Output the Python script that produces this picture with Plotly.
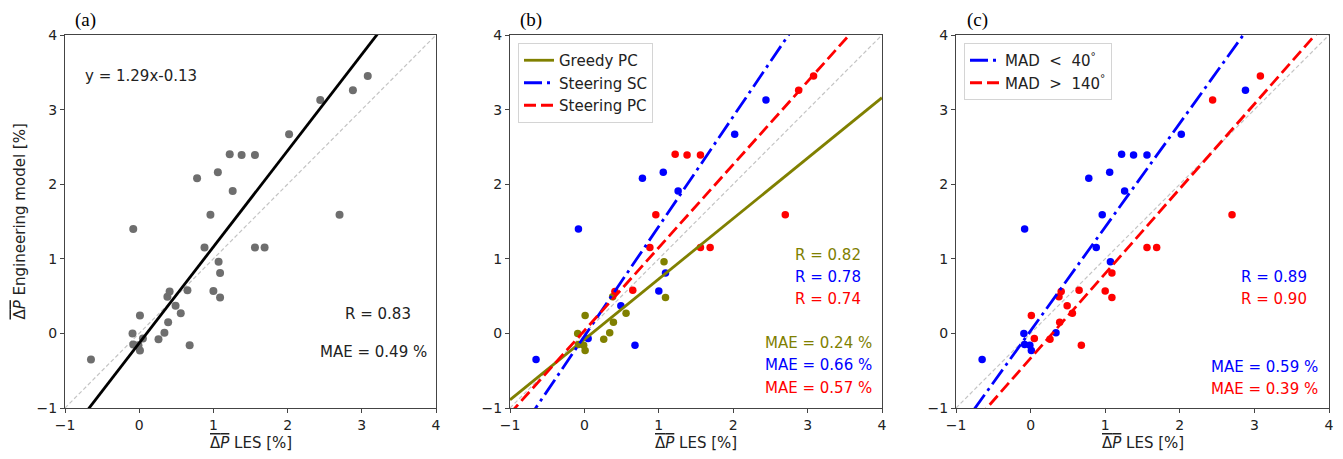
import plotly.graph_objects as go

# LES vs engineering model pressure drop [%], one entry per case
les = [-0.65, -0.08, -0.09, 0.01, -0.08, -0.01, 0.01, 0.05, 0.26, 0.34, 0.39, 0.38,
       0.41, 0.49, 0.56, 0.65, 0.68, 0.88, 0.96, 1.00, 1.07, 1.09, 1.09, 0.78,
       1.06, 1.26, 1.22, 1.38, 1.56, 1.56, 1.69, 2.02, 2.44, 2.70, 2.88, 3.08]
model = [-0.35, 1.40, 0.00, 0.24, -0.15, -0.16, -0.23, -0.07, -0.08, 0.01, 0.15, 0.49,
         0.56, 0.37, 0.27, 0.58, -0.16, 1.15, 1.59, 0.57, 0.96, 0.81, 0.48, 2.08,
         2.16, 1.91, 2.40, 2.39, 2.39, 1.15, 1.15, 2.67, 3.13, 1.59, 3.26, 3.45]

# controller group per case (panel b) and misalignment group (panel c)
controller = ["SSC", "SSC", "GPC", "GPC", "GPC", "GPC", "GPC", "SSC", "GPC", "GPC", "GPC", "GPC",
              "SPC", "SSC", "GPC", "SPC", "SSC", "SPC", "SPC", "SSC", "GPC", "SSC", "GPC", "SSC",
              "SSC", "SSC", "SPC", "SPC", "SPC", "SPC", "SPC", "SSC", "SSC", "SPC", "SPC", "SPC"]
mad = ["lo", "lo", "lo", "hi", "lo", "lo", "lo", "hi", "hi", "lo", "hi", "hi",
       "hi", "hi", "hi", "hi", "hi", "lo", "lo", "hi", "lo", "hi", "hi", "lo",
       "lo", "lo", "lo", "lo", "lo", "hi", "hi", "lo", "hi", "hi", "lo", "hi"]

# linear fits (slope, intercept)
fit_all = (1.29, -0.13)
ctrl_keys = ["GPC", "SSC", "SPC"]
ctrl_names = ["Greedy PC", "Steering SC", "Steering PC"]
ctrl_fits = [(0.81, -0.08), (1.472, -0.037), (1.113, 0.038)]
ctrl_r = ["R = 0.82", "R = 0.78", "R = 0.74"]
ctrl_mae = ["MAE = 0.24 %", "MAE = 0.66 %", "MAE = 0.57 %"]

mad_keys = ["lo", "hi"]
mad_names = ["MAD  <  40<sup>°</sup>", "MAD  >  140<sup>°</sup>"]
mad_fits = [(1.391, 0.035), (1.136, -0.333)]
mad_r = ["R = 0.89", "R = 0.90"]
mad_mae = ["MAE = 0.59 %", "MAE = 0.39 %"]

ctrl_colors = ["#808000", "#0000ff", "#ff0000"]
DASHDOT = "18px,5px,3px,5px"
DASHED = "12px,5px"
ctrl_dash = ["solid", DASHDOT, DASHED]
mad_colors = ["#0000ff", "#ff0000"]
mad_dash = [DASHDOT, DASHED]

FONT = "DejaVu Sans"
# the page body adds an 8px margin around the figure
OFF = 8
W, H = 1343 - 2 * OFF, 459 - 2 * OFF
line_x = [-1, 4]


def px(x):
    return (x - OFF) / W


def py(y):
    return 1 - (y - OFF) / H


fig = go.Figure()


def add_diag(ax):
    fig.add_trace(go.Scatter(x=line_x, y=line_x, mode="lines", xaxis="x" + ax, yaxis="y" + ax,
                             line=dict(color="#c4c4c4", width=1.2, dash="4px,2.5px"),
                             showlegend=False, hoverinfo="skip"))


def add_fit(ax, fit, color, dash, name=None, legend=None):
    k, b = fit
    fig.add_trace(go.Scatter(x=line_x, y=[k * v + b for v in line_x], mode="lines",
                             xaxis="x" + ax, yaxis="y" + ax, name=name,
                             line=dict(color=color, width=2.8, dash=dash),
                             showlegend=name is not None, legend=legend))


# (a) all cases
add_diag("")
fig.add_trace(go.Scatter(x=les, y=model, mode="markers", showlegend=False,
                         marker=dict(color="#6e6e6e", size=8)))
add_fit("", fit_all, "black", "solid")

# (b) by controller
add_diag("2")
for key, color in zip(ctrl_keys, ctrl_colors):
    xs = [x for x, g in zip(les, controller) if g == key]
    ys = [y for y, g in zip(model, controller) if g == key]
    fig.add_trace(go.Scatter(x=xs, y=ys, mode="markers", xaxis="x2", yaxis="y2",
                             marker=dict(color=color, size=7.5), showlegend=False))
for fit, color, dash, name in zip(ctrl_fits, ctrl_colors, ctrl_dash, ctrl_names):
    add_fit("2", fit, color, dash, name, "legend")

# (c) by misalignment
add_diag("3")
for key, color in zip(mad_keys, mad_colors):
    xs = [x for x, g in zip(les, mad) if g == key]
    ys = [y for y, g in zip(model, mad) if g == key]
    fig.add_trace(go.Scatter(x=xs, y=ys, mode="markers", xaxis="x3", yaxis="y3",
                             marker=dict(color=color, size=7.5), showlegend=False))
for fit, color, dash, name in zip(mad_fits, mad_colors, mad_dash, mad_names):
    add_fit("3", fit, color, dash, name, "legend2")

axis_style = dict(range=[-1, 4], tickvals=[-1, 0, 1, 2, 3, 4], showgrid=False, zeroline=False,
                  showline=True, linecolor="#444", linewidth=1, mirror=True,
                  ticks="outside", ticklen=4, tickcolor="#444", automargin=False,
                  tickfont=dict(family=FONT, size=14, color="#222"))

domains = [[px(65), px(436)], [px(510), px(882)], [px(956), px(1329)]]
ydom = [py(408), py(35)]
layout = dict(width=W, height=H, autosize=False, plot_bgcolor="white", paper_bgcolor="white",
              margin=dict(l=0, r=0, t=0, b=0, pad=0, autoexpand=False),
              font=dict(family=FONT, size=15, color="#222"))
for i, dom in enumerate(domains):
    s = "" if i == 0 else str(i + 1)
    layout["xaxis" + s] = dict(axis_style, domain=dom, anchor="y" + s)
    layout["yaxis" + s] = dict(axis_style, domain=ydom, anchor="x" + s)

legend_style = dict(bgcolor="white", bordercolor="#d4d4d4", borderwidth=1,
                    font=dict(family=FONT, size=15, color="#222"),
                    xanchor="left", yanchor="top", yref="paper", itemwidth=30,
                    tracegroupgap=0)
layout["legend"] = dict(legend_style, x=px(518), y=py(43))
layout["legend2"] = dict(legend_style, x=px(964), y=py(43))
fig.update_layout(**layout)

xlabel = '<span style="text-decoration:overline">Δ<i>P</i></span> LES [%]'
ylabel = '<span style="text-decoration:overline">Δ<i>P</i></span> Engineering model [%]'

notes = []
for x0, tag in zip([85, 531, 977], ["(a)", "(b)", "(c)"]):
    notes.append(dict(x=px(x0), y=py(20), xref="paper", yref="paper", text=tag,
                      xanchor="center", yanchor="middle", showarrow=False,
                      font=dict(family="Liberation Serif", size=19, color="black")))
for dom in domains:
    notes.append(dict(x=(dom[0] + dom[1]) / 2, y=py(443), xref="paper", yref="paper",
                      text=xlabel, xanchor="center", yanchor="middle", showarrow=False))
notes.append(dict(x=px(19), y=(ydom[0] + ydom[1]) / 2, xref="paper", yref="paper",
                  text=ylabel, textangle=-90, xanchor="center", yanchor="middle",
                  showarrow=False))

# panel (a) texts
notes.append(dict(x=-0.76, y=3.45, xref="x", yref="y", text="y = 1.29x-0.13",
                  xanchor="left", yanchor="middle", showarrow=False))
notes.append(dict(x=2.75, y=0.26, xref="x", yref="y", text="R = 0.83",
                  xanchor="left", yanchor="middle", showarrow=False))
notes.append(dict(x=2.41, y=-0.25, xref="x", yref="y", text="MAE = 0.49 %",
                  xanchor="left", yanchor="middle", showarrow=False))

# panel (b) texts
for j, (r, m, c) in enumerate(zip(ctrl_r, ctrl_mae, ctrl_colors)):
    notes.append(dict(x=2.80, y=1.05 - 0.295 * j, xref="x2", yref="y2", text=r,
                      xanchor="left", yanchor="middle", showarrow=False, font=dict(color=c)))
    notes.append(dict(x=2.40, y=-0.13 - 0.30 * j, xref="x2", yref="y2", text=m,
                      xanchor="left", yanchor="middle", showarrow=False, font=dict(color=c)))

# panel (c) texts
for j, (r, m, c) in enumerate(zip(mad_r, mad_mae, mad_colors)):
    notes.append(dict(x=2.79, y=0.756 - 0.295 * j, xref="x3", yref="y3", text=r,
                      xanchor="left", yanchor="middle", showarrow=False, font=dict(color=c)))
    notes.append(dict(x=2.39, y=-0.45 - 0.295 * j, xref="x3", yref="y3", text=m,
                      xanchor="left", yanchor="middle", showarrow=False, font=dict(color=c)))

fig.update_layout(annotations=notes)
fig.write_html("out.html")
